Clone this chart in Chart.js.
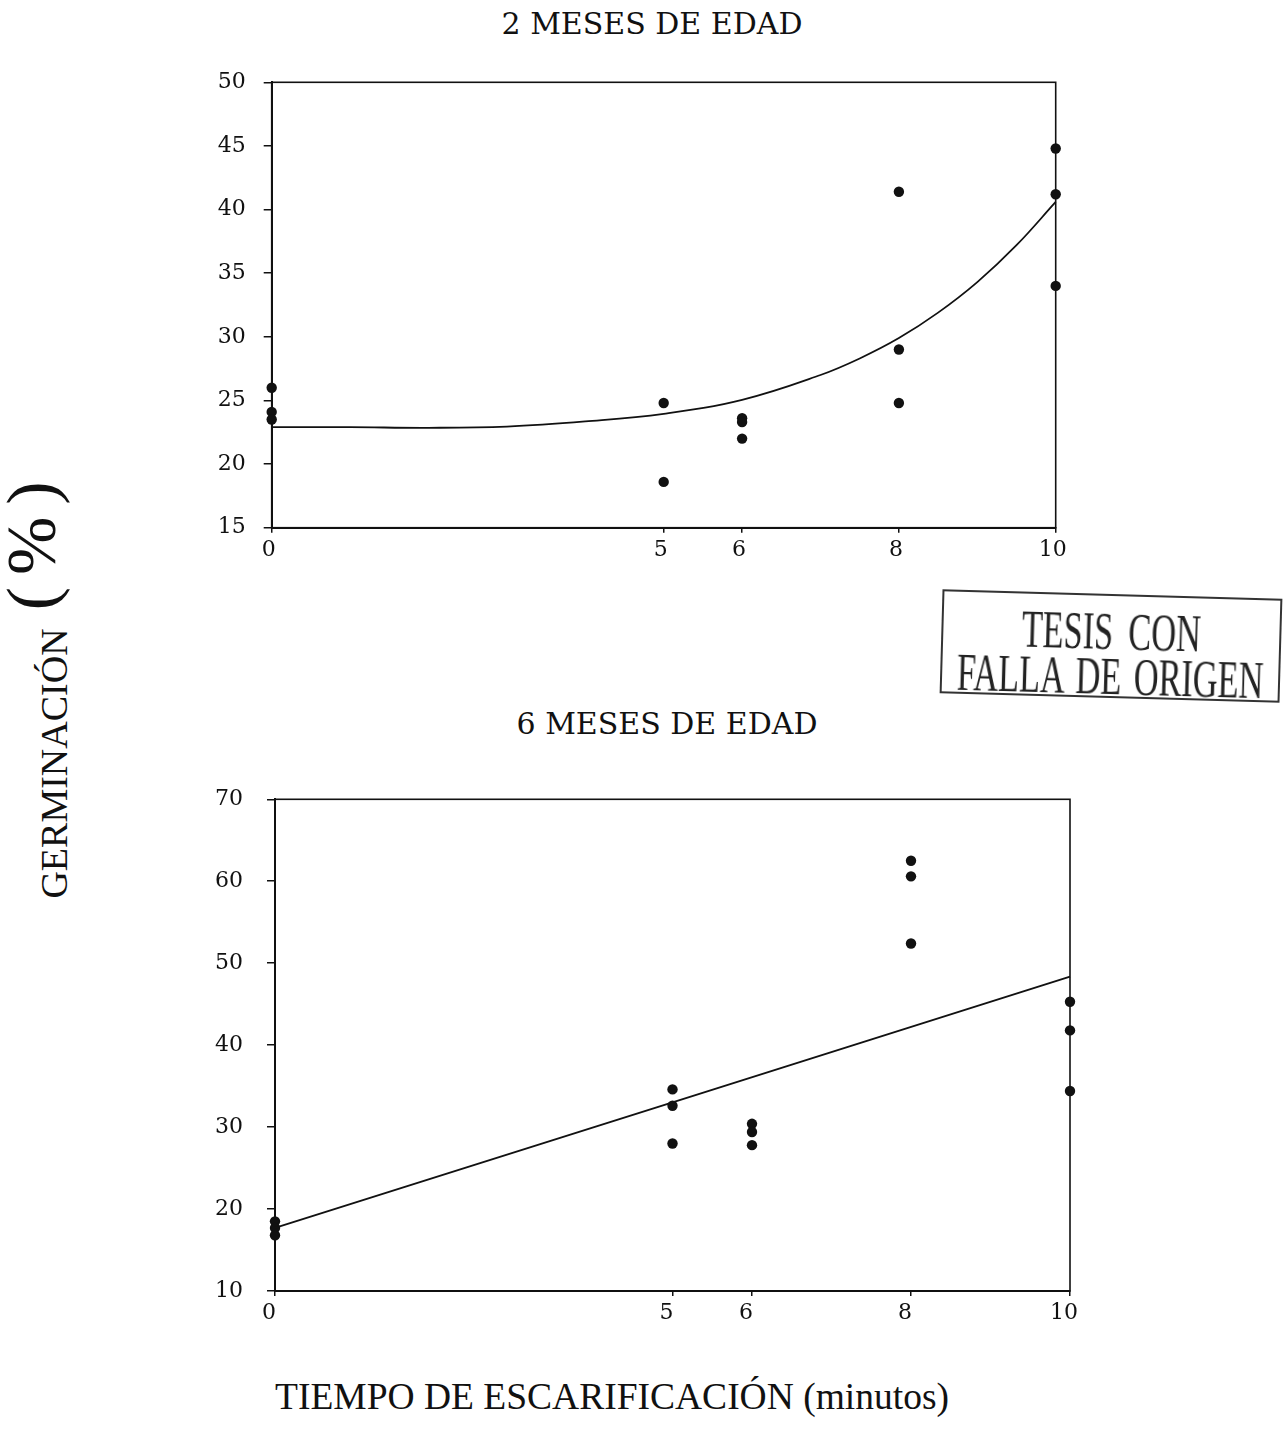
<!DOCTYPE html>
<html>
<head>
<meta charset="utf-8">
<script src="https://cdn.jsdelivr.net/npm/chart.js@4.4.1/dist/chart.umd.min.js"></script>
<style>
  html, body { margin: 0; padding: 0; background: #fff; }
  #page { position: relative; width: 1286px; height: 1442px; overflow: hidden; background: #fff; }
  .panel { position: absolute; }
  .title {
    position: absolute; white-space: nowrap; color: #111;
    font-family: 'DejaVu Serif', serif; font-size: 30px;
    transform: translate(-50%, -50%);
  }
  #xtitle {
    position: absolute; left: 612px; top: 1396px; white-space: nowrap; color: #111;
    font-family: 'Liberation Serif', serif; font-size: 37.5px;
    transform: translate(-50%, -50%);
  }
  #ytitle {
    position: absolute; left: -256px; top: 644px; width: 600px; height: 80px;
    display: flex; justify-content: center; align-items: baseline;
    transform: rotate(-90deg); color: #111; white-space: nowrap;
    font-family: 'Liberation Serif', serif; line-height: 80px;
  }
  #ytitle .g { font-size: 38px; }
  #ytitle .p { font-size: 70px; margin-left: 18px; letter-spacing: 12px; position: relative; top: -12px; }
  #stamp {
    position: absolute; left: 941px; top: 594px; width: 336px; height: 100px;
    border: 2px solid #333; transform: rotate(1.6deg); color: #222;
    font-family: 'Liberation Serif', serif;
  }
  #stamp div {
    position: absolute; left: 50%; white-space: nowrap; font-size: 52px; line-height: 52px;
    transform: translate(-50%, 0) scaleX(0.66);
  }
  #stamp .l1 { top: 10px; word-spacing: 10px; }
  #stamp .l2 { top: 55px; word-spacing: 6px; }
</style>
</head>
<body>
<div id="page">
  <div class="title" style="left:652px; top:23px;">2 MESES DE EDAD</div>
  <div class="title" style="left:667px; top:723px;">6 MESES DE EDAD</div>

  <div class="panel" style="left:150px; top:50px; width:950px; height:560px;">
    <canvas id="c1" width="950" height="560"></canvas>
  </div>
  <div class="panel" style="left:150px; top:760px; width:960px; height:590px;">
    <canvas id="c2" width="960" height="590"></canvas>
  </div>

  <div id="ytitle"><span class="g">GERMINACIÓN</span><span class="p">(%)</span></div>
  <div id="xtitle">TIEMPO DE ESCARIFICACIÓN (minutos)</div>

  <div id="stamp"><div class="l1">TESIS CON</div><div class="l2">FALLA DE ORIGEN</div></div>
</div>

<script>
// Scarification time (minutes) shown on the x axis
const timeTicks = [0, 5, 6, 8, 10];

// Seeds 2 months old: germination (%) per replicate
const x2m = [0, 0, 0, 5, 5, 6, 6, 6, 8, 8, 8, 10, 10, 10];
const g2m = [26.0, 24.1, 23.5, 24.8, 18.6, 23.6, 23.3, 22.0, 41.4, 29.0, 24.8, 44.8, 41.2, 34.0];
// fitted curve for 2 months
const fitX2m = [0, 1, 2, 3, 4, 5, 6, 7, 7.5, 8, 8.5, 9, 9.5, 10];
const fitY2m = [22.9, 22.9, 22.85, 22.95, 23.35, 23.95, 25.05, 27.0, 28.3, 29.9, 31.9, 34.3, 37.2, 40.6];
const yTicks2m = { min: 15, max: 50, step: 5 };

// Seeds 6 months old: germination (%) per replicate
const x6m = [0, 0, 0, 5, 5, 5, 6, 6, 6, 8, 8, 8, 10, 10, 10];
const g6m = [18.5, 17.7, 16.8, 34.6, 32.6, 28.0, 30.4, 29.4, 27.8, 62.5, 60.6, 52.4, 45.3, 41.8, 34.4];
// fitted regression line for 6 months
const fitX6m = [0, 10];
const fitY6m = [17.7, 48.35];
const yTicks6m = { min: 10, max: 70, step: 10 };

const INK = '#111';
const tickFont = { family: 'DejaVu Serif', size: 22 };

// draws the closed box around the plotting area
const framePlugin = {
  id: 'frame',
  beforeDatasetsDraw(chart) {
    const a = chart.chartArea, ctx = chart.ctx;
    ctx.save();
    ctx.strokeStyle = INK;
    ctx.lineWidth = 1.6;
    ctx.strokeRect(a.left, a.top, a.right - a.left, a.bottom - a.top);
    ctx.restore();
  }
};

function makeChart(id, xs, ys, fx, fy, yt, geom) {
  const pts = xs.map((x, i) => ({ x: x, y: ys[i] }));
  const fit = fx.map((x, i) => ({ x: x, y: fy[i] }));
  return new Chart(document.getElementById(id), {
    type: 'scatter',
    data: {
      datasets: [
        {
          data: fit, showLine: true, pointRadius: 0, borderColor: INK, borderWidth: 1.8,
          tension: 0.4, clip: false
        },
        {
          data: pts, pointRadius: 5.2, pointBackgroundColor: INK, pointBorderWidth: 0,
          clip: false
        }
      ]
    },
    options: {
      responsive: false, animation: false, devicePixelRatio: 1, events: [],
      layout: { padding: { left: 0, top: geom.top, right: geom.right, bottom: 0 } },
      plugins: { legend: { display: false }, tooltip: { enabled: false } },
      scales: {
        x: {
          type: 'linear', min: 0, max: 10,
          afterBuildTicks: s => { s.ticks = timeTicks.map(v => ({ value: v })); },
          afterFit: s => { s.height = geom.xh; },
          ticks: {
            font: tickFont, color: INK, padding: geom.xpad, autoSkip: false, maxRotation: 0,
            labelOffset: geom.xoff
          },
          grid: { display: true, drawOnChartArea: false, drawTicks: true, tickLength: 5, color: INK, lineWidth: 1.5 },
          border: { display: true, color: INK, width: 2 }
        },
        y: {
          min: yt.min, max: yt.max,
          afterFit: s => { s.width = geom.yw; },
          ticks: { stepSize: yt.step, font: tickFont, color: INK, padding: geom.ypad },
          grid: { display: true, drawOnChartArea: false, drawTicks: true, tickLength: 8, color: INK, lineWidth: 1.5 },
          border: { display: true, color: INK, width: 2 }
        }
      }
    },
    plugins: [framePlugin]
  });
}

makeChart('c1', x2m, g2m, fitX2m, fitY2m, yTicks2m,
  { top: 32.3, right: 44.3, yw: 121.7, xh: 82.3, xpad: 4, ypad: 18, xoff: -3 });
makeChart('c2', x6m, g6m, fitX6m, fitY6m, yTicks6m,
  { top: 39.3, right: 40, yw: 125, xh: 59, xpad: 4, ypad: 24, xoff: -6 });
</script>
</body>
</html>
